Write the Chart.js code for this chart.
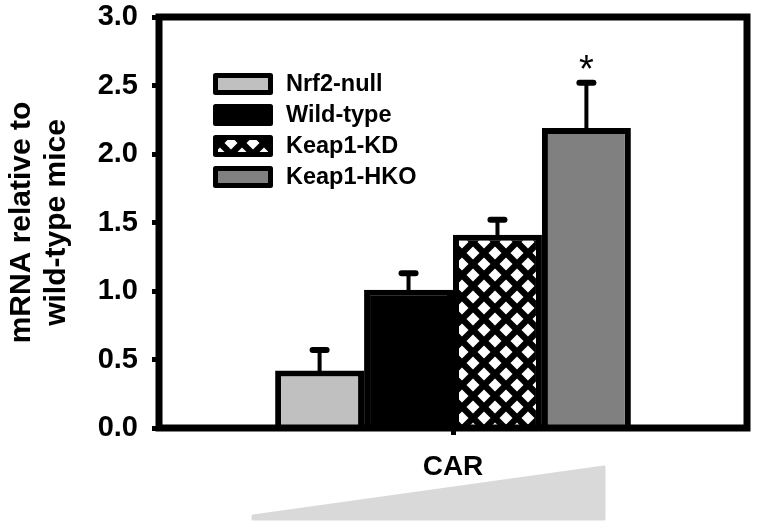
<!DOCTYPE html>
<html>
<head>
<meta charset="utf-8">
<script src="https://cdn.jsdelivr.net/npm/chart.js@4.4.0/dist/chart.umd.min.js"></script>
<style>
  html, body { margin: 0; padding: 0; background: #fff; }
</style>
</head>
<body>
<canvas id="g_car" width="757" height="529"></canvas>
<script>
// donnees
const categories = ['CAR'];
const groups = ['Nrf2-null', 'Wild-type', 'Keap1-KD', 'Keap1-HKO'];
const means = [0.42, 1.01, 1.41, 2.19];
const errors = [0.15, 0.12, 0.11, 0.33];
const signif = ['', '', '', '*'];
const yTitle = ['mRNA relative to', 'wild-type mice'];

const FONT = "'Liberation Sans', Arial, sans-serif";

// motif quadrille (losanges blancs sur fond noir)
function hatch() {
  let c = document.createElement('canvas');
  c.width = 22; c.height = 22;
  let g = c.getContext('2d');
  g.fillStyle = '#000';
  g.fillRect(0, 0, 22, 22);
  g.fillStyle = '#fff';
  const r = 6.5;
  [[0, 0], [22, 0], [0, 22], [22, 22], [11, 11]].forEach(p => {
    g.beginPath();
    g.moveTo(p[0], p[1] - r);
    g.lineTo(p[0] + r, p[1]);
    g.lineTo(p[0], p[1] + r);
    g.lineTo(p[0] - r, p[1]);
    g.closePath();
    g.fill();
  });
  return g.createPattern(c, 'repeat');
}

const fills = ['#c0c0c0', '#000000', hatch(), '#808080'];

let datasets = [];
for (let i = 0; i < groups.length; i++) {
  datasets.push({
    label: groups[i],
    data: [means[i]],
    backgroundColor: fills[i],
    borderColor: '#000',
    borderWidth: 6,
    borderSkipped: 'bottom'
  });
}

// barres d'erreur, asterisque, cadre, legende, triangle
const extras = {
  id: 'extras',
  beforeDatasetsDraw(chart) {
    const ctx = chart.ctx;
    const cx = chart.scales.x.getPixelForValue(0);
    // triangle gris sous CAR
    ctx.save();
    ctx.fillStyle = '#d9d9d9';
    ctx.strokeStyle = '#d9d9d9';
    ctx.lineWidth = 3;
    ctx.lineJoin = 'round';
    ctx.beginPath();
    ctx.moveTo(cx - 200, 519);
    ctx.lineTo(cx - 200, 516);
    ctx.lineTo(cx + 151, 467);
    ctx.lineTo(cx + 151, 519);
    ctx.closePath();
    ctx.fill();
    ctx.stroke();
    ctx.restore();
  },
  afterDatasetsDraw(chart) {
    const ctx = chart.ctx;
    const a = chart.chartArea;
    const ys = chart.scales.y;
    ctx.save();
    ctx.strokeStyle = '#000';
    ctx.lineCap = 'round';
    for (let i = 0; i < groups.length; i++) {
      const bar = chart.getDatasetMeta(i).data[0];
      const yTop = ys.getPixelForValue(means[i] + errors[i]);
      ctx.lineWidth = 4;
      ctx.beginPath();
      ctx.moveTo(bar.x, bar.y);
      ctx.lineTo(bar.x, yTop);
      ctx.stroke();
      ctx.lineWidth = 6;
      ctx.beginPath();
      ctx.moveTo(bar.x - 7, yTop);
      ctx.lineTo(bar.x + 7, yTop);
      ctx.stroke();
      if (signif[i]) {
        ctx.fillStyle = '#000';
        ctx.font = '38px ' + FONT;
        ctx.textAlign = 'center';
        ctx.textBaseline = 'alphabetic';
        ctx.fillText(signif[i], bar.x, yTop - 1);
      }
    }
    // cadre
    ctx.lineWidth = 7;
    ctx.lineCap = 'square';
    ctx.strokeRect(a.left, a.top, a.right - a.left, a.bottom - a.top);
    // legende
    ctx.font = 'bold 23.5px ' + FONT;
    ctx.textAlign = 'left';
    ctx.textBaseline = 'middle';
    for (let i = 0; i < groups.length; i++) {
      const y = a.top + 67 + i * 31;
      const x = a.left + 55;
      ctx.fillStyle = fills[i];
      ctx.fillRect(x, y - 10, 58, 20);
      ctx.lineWidth = 5;
      ctx.lineJoin = 'round';
      ctx.strokeRect(x + 1.5, y - 8.5, 55, 17);
      ctx.fillStyle = '#000';
      ctx.fillText(groups[i], x + 72, y + 1);
    }
    ctx.restore();
  }
};

let config = {
  type: 'bar',
  data: { labels: categories, datasets: datasets },
  options: {
    responsive: false,
    animation: false,
    layout: { padding: { top: 17, right: 10, left: 0, bottom: 0 } },
    datasets: { bar: { categoryPercentage: 0.605, barPercentage: 1.0 } },
    plugins: { legend: { display: false }, tooltip: { enabled: false } },
    scales: {
      x: {
        offset: true,
        border: { display: false },
        grid: { offset: false, drawOnChartArea: false, tickLength: 7, tickWidth: 5, color: '#000' },
        ticks: { color: '#000', padding: 15, font: { family: FONT, size: 28, weight: 'bold' } },
        afterFit(scale) {
          scale.height = 101;
          scale.paddingLeft = 0;
          scale.paddingRight = 0;
        }
      },
      y: {
        min: 0,
        max: 3,
        border: { display: false },
        grid: { drawOnChartArea: false, tickLength: 7, tickWidth: 5, color: '#000' },
        ticks: {
          stepSize: 0.5,
          color: '#000',
          padding: 14,
          font: { family: FONT, size: 29, weight: 'bold' },
          callback: v => v.toFixed(1)
        },
        title: {
          display: true,
          text: yTitle,
          color: '#000',
          padding: { top: 4, bottom: 0 },
          font: { family: FONT, size: 30, weight: 'bold', lineHeight: 1.17 }
        },
        afterFit(scale) {
          scale.width = 159;
          scale.paddingTop = 0;
          scale.paddingBottom = 0;
        }
      }
    }
  },
  plugins: [extras]
};

let gCar = new Chart(document.getElementById('g_car').getContext('2d'), config);
</script>
</body>
</html>
